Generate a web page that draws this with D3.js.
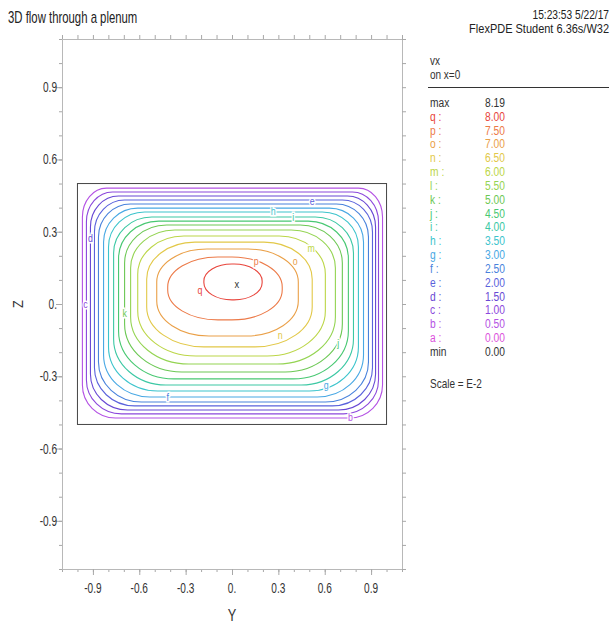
<!DOCTYPE html>
<html><head><meta charset="utf-8">
<script src="https://cdn.jsdelivr.net/npm/d3@7"></script>
<style>body{margin:0;background:#fff}svg{display:block}text{font-family:"Liberation Sans",Arial,sans-serif}</style>
</head><body>
<svg id="c" width="611" height="623"></svg>
<script>
// ---- legend levels (top to bottom) ----
const levelLetters = ["q","p","o","n","m","l","k","j","i","h","g","f","e","d","c","b","a"];
const levelValues  = [8.00,7.50,7.00,6.50,6.00,5.50,5.00,4.50,4.00,3.50,3.00,2.50,2.00,1.50,1.00,0.50,0.00];
const levelColors  = ["#e8453c","#ec7a48","#eaa048","#e2c848","#bcd648","#94d452","#6cc854","#48c872","#3cc8a4","#3cc4cc","#48a8e4","#4882dc","#5a62dc","#6848d4","#8c48dc","#b452e4","#dc52dc"];
const maxValue = 8.19, minValue = 0.00;

// ---- contour rings, outer (b) to inner (q), in data units (Y, Z) ----
const contourLetters = ["b","c","d","e","f","g","h","i","j","k","l","m","n","o","p","q"];
const contourLeft   = [-0.968,-0.942,-0.916,-0.890,-0.864,-0.831,-0.799,-0.766,-0.734,-0.695,-0.656,-0.610,-0.552,-0.487,-0.416,-0.182];
const contourRight  = [0.974,0.948,0.929,0.909,0.883,0.851,0.818,0.786,0.753,0.714,0.669,0.604,0.519,0.429,0.325,0.195];
const contourTop    = [0.481,0.465,0.448,0.432,0.415,0.398,0.382,0.361,0.344,0.328,0.307,0.282,0.257,0.228,0.195,0.166];
const contourBottom = [-0.473,-0.456,-0.440,-0.423,-0.407,-0.386,-0.361,-0.336,-0.311,-0.282,-0.249,-0.216,-0.178,-0.133,-0.066,0.017];
const topCornerY = [0.156,0.169,0.182,0.195,0.208,0.221,0.234,0.247,0.260,0.273,0.286,0.299,0.312,0.325,0.325,0.182];
const topCornerZ = [0.120,0.124,0.129,0.133,0.137,0.141,0.145,0.149,0.154,0.158,0.158,0.158,0.154,0.137,0.124,0.071];
const botCornerY = [0.214,0.227,0.240,0.260,0.279,0.299,0.318,0.338,0.357,0.370,0.377,0.377,0.370,0.338,0.325,0.182];
const botCornerZ = [0.137,0.141,0.149,0.158,0.166,0.174,0.183,0.191,0.199,0.199,0.195,0.187,0.166,0.145,0.124,0.071];

// ---- contour labels ----
const labelText = ["d","c","k","q","p","o","m","e","h","i","n","j","g","f","b"];
const labelY = [-0.916,-0.948,-0.695,-0.208,0.156,0.409,0.513,0.519,0.266,0.396,0.312,0.688,0.610,-0.416,0.766];
const labelZ = [0.270,0.000,-0.041,0.058,0.178,0.178,0.232,0.427,0.382,0.361,-0.129,-0.162,-0.340,-0.390,-0.473];
const maxPoint = [0.032, 0.079];

// ---- domain box and axes ----
const boxY = [-1, 1], boxZ = [-0.5, 0.5];
const axisDomain = [-1.1, 1.1];
const majorTicks = [-0.9,-0.6,-0.3,0,0.3,0.6,0.9];
const majorLabels = ["-0.9","-0.6","-0.3","0.","0.3","0.6","0.9"];

const svg = d3.select("#c");
svg.append("rect").attr("width",611).attr("height",623).attr("fill","#fff");

const x = d3.scaleLinear().domain(axisDomain).range([62, 402]);
const y = d3.scaleLinear().domain(axisDomain).range([569, 39]);

function label(parent, px, py, str, o={}) {
  const size=o.size||12, sx=o.sx||0.8;
  return parent.append("text")
    .attr("transform", `translate(${px},${py})${o.rotate?` rotate(${o.rotate})`:""} scale(${sx},1)`)
    .attr("font-size", size).attr("text-anchor", o.anchor||"start")
    .attr("fill", o.fill||"#222").text(str);
}

// title / header
label(svg, 8, 23, "3D flow through a plenum", {size:16, sx:0.71});
label(svg, 609, 19, "15:23:53 5/22/17", {size:12, sx:0.85, anchor:"end"});
label(svg, 609, 33, "FlexPDE Student 6.36s/W32", {size:13, sx:0.846, anchor:"end"});

// axes
const minorTicks = d3.range(-11, 12).map(i => i/10);
const axG = svg.append("g");
function styleAxis(g){ g.selectAll(".domain").attr("stroke","#b8b8b8"); g.selectAll(".tick line").attr("stroke","#a8a8a8"); }
axG.append("g").attr("transform","translate(0,569)")
  .call(d3.axisBottom(x).tickValues(minorTicks).tickSize(3).tickFormat("").tickSizeOuter(0)).call(styleAxis);
axG.append("g").attr("transform","translate(0,569)")
  .call(d3.axisBottom(x).tickValues(majorTicks).tickSize(6).tickFormat("").tickSizeOuter(0)).call(styleAxis);
axG.append("g").attr("transform","translate(62,0)")
  .call(d3.axisLeft(y).tickValues(minorTicks).tickSize(3).tickFormat("").tickSizeOuter(0)).call(styleAxis);
axG.append("g").attr("transform","translate(62,0)")
  .call(d3.axisLeft(y).tickValues(majorTicks).tickSize(6).tickFormat("").tickSizeOuter(0)).call(styleAxis);
axG.append("g").attr("transform","translate(0,39)")
  .call(d3.axisTop(x).tickValues(minorTicks).tickSize(4).tickFormat("").tickSizeOuter(0)).call(styleAxis);
axG.append("g").attr("transform","translate(402,0)")
  .call(d3.axisRight(y).tickValues(minorTicks).tickSize(4).tickFormat("").tickSizeOuter(0)).call(styleAxis);
axG.selectAll(".domain").attr("stroke","#b8b8b8");

majorTicks.forEach((v,i)=>{
  label(svg, x(v), 593, majorLabels[i], {size:14, sx:0.72, anchor:"middle", fill:"#333"});
  label(svg, 57, y(v)+5, majorLabels[i], {size:14, sx:0.72, anchor:"end", fill:"#333"});
});
label(svg, x(0), 621, "Y", {size:16, sx:0.8, anchor:"middle", fill:"#333"});
label(svg, 23, y(0), "Z", {size:15, sx:0.85, anchor:"middle", fill:"#333", rotate:-90});

// domain box
svg.append("rect").attr("x", x(boxY[0])).attr("y", y(boxZ[1]))
  .attr("width", x(boxY[1])-x(boxY[0])).attr("height", y(boxZ[0])-y(boxZ[1]))
  .attr("fill","none").attr("stroke","#444").attr("stroke-width",1);

// contour rings
const colorOf = l => levelColors[levelLetters.indexOf(l)];
const cg = svg.append("g").attr("fill","none").attr("stroke-width",1.1);
contourLetters.forEach((l,i)=>{
  const L=x(contourLeft[i]), R=x(contourRight[i]), T=y(contourTop[i]), B=y(contourBottom[i]);
  const tx = x(contourLeft[i]+topCornerY[i])-L, ty = y(contourTop[i]-topCornerZ[i])-T;
  const bx = x(contourLeft[i]+botCornerY[i])-L, by = B-y(contourBottom[i]+botCornerZ[i]);
  const p = d3.path();
  const d = `M${L},${T+ty} A${tx},${ty} 0 0 1 ${L+tx},${T} L${R-tx},${T} A${tx},${ty} 0 0 1 ${R},${T+ty} `+
            `L${R},${B-by} A${bx},${by} 0 0 1 ${R-bx},${B} L${L+bx},${B} A${bx},${by} 0 0 1 ${L},${B-by} Z`;
  cg.append("path").attr("d", d).attr("stroke", colorOf(l));
});

// contour labels
labelText.forEach((l,i)=>{
  label(svg, x(labelY[i]), y(labelZ[i])+3.5, l, {size:11, sx:0.8, anchor:"middle", fill:colorOf(l)})
    .attr("stroke","#fff").attr("stroke-width",3).attr("paint-order","stroke");
});
label(svg, x(maxPoint[0]), y(maxPoint[1])+3.5, "x", {size:11, sx:0.85, anchor:"middle", fill:"#333"});

// legend
const lg = svg.append("g");
label(lg, 430, 65, "vx", {size:12.5, sx:0.8, fill:"#333"});
label(lg, 430, 79, "on x=0", {size:12.5, sx:0.8, fill:"#333"});
lg.append("line").attr("x1",428).attr("x2",609).attr("y1",87.5).attr("y2",87.5).attr("stroke","#333");
const rowY = i => 107 + i*13.83;
label(lg, 430, rowY(0), "max", {size:12.5, sx:0.82, fill:"#333"});
label(lg, 505, rowY(0), maxValue.toFixed(2), {size:12.5, sx:0.82, anchor:"end", fill:"#333"});
levelLetters.forEach((l,i)=>{
  label(lg, 430, rowY(i+1), l+" :", {size:12.5, sx:0.82, fill:levelColors[i]});
  label(lg, 505, rowY(i+1), levelValues[i].toFixed(2), {size:12.5, sx:0.82, anchor:"end", fill:levelColors[i]});
});
label(lg, 430, rowY(18), "min", {size:12.5, sx:0.82, fill:"#333"});
label(lg, 505, rowY(18), minValue.toFixed(2), {size:12.5, sx:0.82, anchor:"end", fill:"#333"});
label(lg, 430, 388, "Scale = E-2", {size:12.5, sx:0.8, fill:"#333"});
</script>
</body></html>
